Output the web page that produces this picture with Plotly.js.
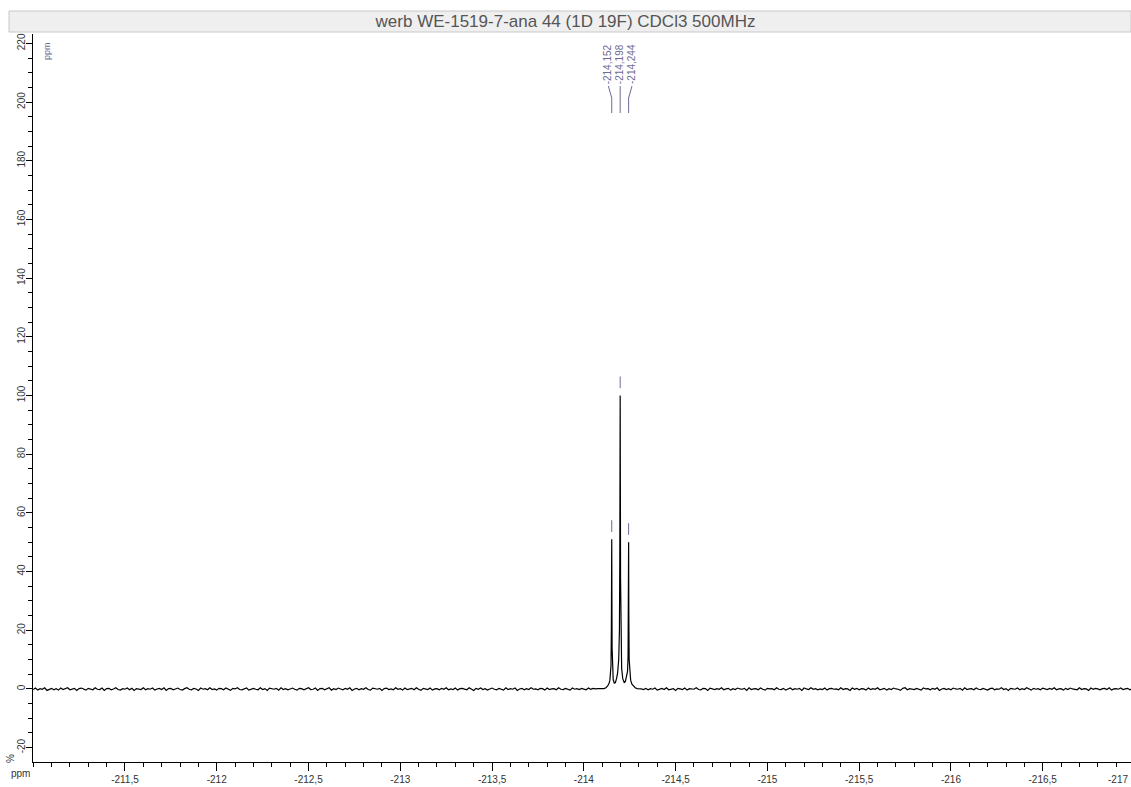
<!DOCTYPE html>
<html>
<head>
<meta charset="utf-8">
<script src="https://cdn.plot.ly/plotly-3.0.1.min.js"></script>
<style>html,body{margin:0;padding:0;background:#fff;overflow:hidden;}#chart{width:1131px;height:787px;}</style>
</head>
<body>
<div id="chart"></div>
<script>
// ---- data ----
const titleText = 'werb WE-1519-7-ana 44 (1D 19F) CDCl3 500MHz';

// baseline noise, left part: ppm -211.000 ... -214.100, sampled every 0.0125 ppm
const base1Start = -211.0;
const base1Step = 0.0125;
const base1Int = [
-0.2,0.3,-0.4,0.1,-0.1,0.4,-0.5,0.0,0.2,-0.3,0.1,-0.4,0.3,-0.2,0.0,0.4,-0.3,-0.1,0.2,-0.5,
0.1,0.3,-0.2,-0.4,0.2,0.0,-0.3,0.4,-0.1,-0.2,0.3,-0.5,0.1,0.2,-0.3,0.0,0.4,-0.2,-0.4,0.1,
-0.1,0.3,-0.3,0.2,-0.5,0.1,0.0,-0.2,0.4,-0.3,0.1,-0.1,0.3,-0.4,0.0,0.2,-0.2,0.4,-0.5,0.1,
0.2,-0.3,0.0,0.3,-0.2,-0.4,0.1,0.4,-0.1,-0.3,0.2,0.0,-0.5,0.3,-0.1,0.1,-0.3,0.4,-0.2,0.0,
-0.4,0.2,0.1,-0.3,0.3,-0.1,-0.5,0.2,0.0,0.4,-0.2,-0.3,0.1,0.3,-0.4,0.0,0.2,-0.1,-0.3,0.4,
-0.2,0.1,-0.5,0.3,0.0,-0.1,0.2,-0.4,0.4,-0.2,0.1,-0.3,0.0,0.3,-0.1,-0.4,0.2,0.1,-0.3,0.0,
0.4,-0.2,-0.1,0.3,-0.5,0.1,0.2,-0.3,0.0,0.4,-0.4,0.1,-0.2,0.3,0.0,-0.3,0.2,-0.1,0.4,-0.5,
0.0,0.2,-0.3,0.1,-0.1,0.4,-0.2,-0.4,0.3,0.0,-0.1,0.2,-0.5,0.1,0.3,-0.2,0.0,-0.3,0.4,-0.1,
0.1,-0.4,0.3,-0.2,0.0,0.2,-0.3,0.4,-0.1,-0.5,0.2,0.1,-0.2,0.3,-0.4,0.0,0.1,-0.3,0.2,-0.1,
0.4,-0.3,0.0,-0.2,0.3,-0.4,0.1,0.2,-0.1,-0.3,0.4,0.0,-0.5,0.2,-0.1,0.3,-0.2,0.1,-0.4,0.0,
0.3,-0.1,-0.3,0.2,0.0,-0.4,0.4,-0.2,0.1,-0.1,0.3,-0.5,0.0,0.2,-0.3,0.1,-0.2,0.4,-0.1,0.0,
-0.3,0.2,0.1,-0.4,0.3,-0.2,0.0,0.1,-0.3,0.4,-0.1,-0.2,0.2,0.0,-0.4,0.3,-0.1,0.1,-0.2,0.2,
0.0,-0.3,0.3,-0.1,0.2,0.0,0.1,0.2,0.1];

// triplet region
const peakPpm = [-214.110,-214.120,-214.130,-214.137,-214.142,-214.146,-214.148,-214.150,-214.151,-214.152,
-214.153,-214.154,-214.156,-214.160,-214.166,-214.172,-214.178,-214.184,-214.190,-214.194,
-214.196,-214.197,-214.198,-214.199,-214.200,-214.202,-214.206,-214.212,-214.220,-214.226,
-214.232,-214.238,-214.241,-214.243,-214.244,-214.245,-214.247,-214.250,-214.255,-214.262,
-214.270,-214.280,-214.290];
const peakInt = [0.1,0.4,1.0,1.8,3.0,5.0,8.0,20,35,51,
30,14,6.0,3.2,2.0,2.2,3.5,5.5,10,20,
45,80,100,70,38,16,7.0,3.5,2.2,2.5,
3.8,6.0,11,28,50,26,10,5.0,3.0,1.6,
0.9,0.4,0.1];

// baseline noise, right part: ppm -214.300 ... -217.000, every 0.0125 ppm
const base2Start = -214.3;
const base2Step = 0.0125;
const base2Int = [
0.1,0.0,-0.2,0.2,-0.3,0.1,-0.1,0.3,-0.4,0.0,0.2,-0.2,0.4,-0.3,-0.1,0.1,-0.5,0.2,0.0,-0.2,
0.3,-0.4,0.1,0.0,-0.1,0.4,-0.2,-0.3,0.2,0.1,-0.5,0.3,0.0,-0.2,0.1,-0.1,0.4,-0.3,0.0,0.2,
-0.4,0.1,-0.2,0.3,0.0,-0.1,0.2,-0.5,0.4,-0.2,0.0,0.1,-0.3,0.3,-0.1,-0.4,0.2,0.0,0.1,-0.3,
0.4,-0.1,-0.2,0.2,-0.4,0.0,0.3,-0.3,0.1,-0.1,0.2,-0.5,0.3,0.0,-0.2,0.4,-0.1,0.1,-0.3,0.0,
-0.2,0.3,-0.4,0.1,0.2,-0.1,0.0,-0.3,0.4,-0.2,0.1,0.0,-0.5,0.3,-0.1,0.2,-0.3,0.1,0.0,-0.4,
0.3,-0.2,0.1,-0.1,0.4,-0.3,0.0,0.2,-0.4,0.1,-0.2,0.3,0.0,-0.1,-0.5,0.2,0.4,-0.3,0.1,0.0,
-0.2,0.2,-0.1,-0.4,0.3,0.0,0.1,-0.3,0.2,-0.1,0.4,-0.5,0.0,0.2,-0.2,0.1,-0.3,0.3,0.0,-0.1,
0.2,-0.4,0.4,-0.2,0.0,0.1,-0.3,0.3,-0.1,-0.2,0.2,0.0,-0.4,0.1,0.3,-0.3,0.0,-0.1,0.4,-0.2,
0.1,-0.5,0.2,0.0,-0.1,0.3,-0.3,0.1,-0.2,0.4,0.0,-0.4,0.2,-0.1,0.1,-0.3,0.3,0.0,-0.2,0.2,
-0.1,0.4,-0.3,0.0,0.1,-0.4,0.2,-0.2,0.3,0.0,-0.1,-0.3,0.4,-0.2,0.1,0.0,-0.5,0.3,-0.1,0.2,
0.0,-0.3,0.1,0.2,-0.2,0.4,-0.4,0.0,0.1,-0.1,0.3,-0.2,0.0,0.2,-0.3,0.1,0.0];

// picked peaks
const pickPpm = [-214.152, -214.198, -214.244];
const pickLabels = ['-214,152', '-214,198', '-214,244'];
const pickHeights = [51, 100, 50];

// axis ticks
const xTickVals = [-211.5,-212,-212.5,-213,-213.5,-214,-214.5,-215,-215.5,-216,-216.5];
const xTickText = ['-211,5','-212','-212,5','-213','-213,5','-214','-214,5','-215','-215,5','-216','-216,5'];
const xEdgeLabel = '-217';
const yTickVals = [-20,0,20,40,60,80,100,120,140,160,180,200,220];
const yTickText = ['-20','0','20','40','60','80','100','120','140','160','180','200','220'];

// ---- build the trace ----
const xs = [], ys = [];
base1Int.forEach((v, i) => { xs.push(+(base1Start - i * base1Step).toFixed(4)); ys.push(v); });
peakPpm.forEach((p, i) => { xs.push(p); ys.push(peakInt[i]); });
base2Int.forEach((v, i) => { xs.push(+(base2Start - i * base2Step).toFixed(4)); ys.push(v); });

const FONT = 'Liberation Sans, Arial, sans-serif';
const LABEL_COLOR = '#6b6b96';

const W = 1131, H = 787;
const M = {l: 33, r: 0, t: 34, b: 25};
const PW = W - M.l - M.r, PH = H - M.t - M.b;
const px2paperX = px => (px - M.l) / PW;
const px2paperY = py => (H - M.b - py) / PH;

const shapes = [];
const annotations = [];

// title bar
shapes.push({type: 'rect', xref: 'paper', yref: 'paper',
  x0: px2paperX(9), x1: 1.0, y0: px2paperY(32), y1: px2paperY(11),
  fillcolor: '#efefef', line: {color: '#c8c8c8', width: 1}, layer: 'below'});

// peak labels and connectors
const center = pickPpm[1];
pickPpm.forEach((p, i) => {
  const lx = center + (p - center) * 1.4;
  annotations.push({xref: 'x', yref: 'paper', x: lx, y: px2paperY(86),
    text: pickLabels[i], textangle: -90, showarrow: false,
    xanchor: 'center', yanchor: 'bottom',
    font: {family: FONT, size: 10, color: LABEL_COLOR}});
  shapes.push({type: 'path', xref: 'x', yref: 'paper',
    path: `M ${lx} ${px2paperY(86)} L ${p} ${px2paperY(98)} L ${p} ${px2paperY(113)}`,
    line: {color: LABEL_COLOR, width: 1}});
  // small marker above the peak
  shapes.push({type: 'line', xref: 'x', yref: 'y',
    x0: p, x1: p, y0: pickHeights[i] + 2.5, y1: pickHeights[i] + 6.5,
    line: {color: LABEL_COLOR, width: 1}});
});

// "ppm" caption of the label ruler (top-left)
annotations.push({xref: 'paper', yref: 'paper', x: px2paperX(47), y: px2paperY(51),
  text: 'ppm', textangle: -90, showarrow: false, xanchor: 'center', yanchor: 'middle',
  font: {family: FONT, size: 9, color: LABEL_COLOR}});
// axis captions
annotations.push({xref: 'paper', yref: 'paper', x: px2paperX(20), y: px2paperY(773),
  text: 'ppm', showarrow: false, xanchor: 'center', yanchor: 'middle',
  font: {family: FONT, size: 10, color: '#333'}});
annotations.push({xref: 'paper', yref: 'paper', x: px2paperX(10), y: px2paperY(759),
  text: '%', textangle: -90, showarrow: false, xanchor: 'center', yanchor: 'middle',
  font: {family: FONT, size: 10, color: '#333'}});
// the last x label at the right edge
annotations.push({xref: 'paper', yref: 'paper', x: px2paperX(1130), y: px2paperY(780),
  text: xEdgeLabel, showarrow: false, xanchor: 'right', yanchor: 'middle',
  font: {family: FONT, size: 10, color: '#333'}});

const trace = {x: xs, y: ys, type: 'scatter', mode: 'lines',
  line: {color: '#000', width: 1.2}, hoverinfo: 'skip'};

const layout = {
  width: W, height: H,
  margin: M,
  paper_bgcolor: '#fff', plot_bgcolor: '#fff',
  showlegend: false,
  title: {text: titleText, x: 0.5, xref: 'container', xanchor: 'center',
    y: 1 - 21.5 / H, yref: 'container', yanchor: 'middle',
    font: {family: FONT, size: 17, color: '#555'}},
  xaxis: {range: [-210.999, -216.981], showgrid: false, zeroline: false,
    showline: true, linecolor: '#000', linewidth: 1,
    ticks: 'outside', ticklen: 8, tickcolor: '#000', tickwidth: 1,
    tickmode: 'array', tickvals: xTickVals, ticktext: xTickText,
    tickfont: {family: FONT, size: 10, color: '#333'},
    minor: {dtick: 0.1, tick0: 0, ticks: 'outside', ticklen: 4, tickcolor: '#000', showgrid: false}},
  yaxis: {range: [-24.9, 223.2], showgrid: false, zeroline: false,
    showline: true, linecolor: '#000', linewidth: 1,
    ticks: 'outside', ticklen: 6, tickcolor: '#000', tickwidth: 1,
    tickmode: 'array', tickvals: yTickVals, ticktext: yTickText, tickangle: -90,
    ticklabelstandoff: -3,
    tickfont: {family: FONT, size: 10, color: '#333'},
    minor: {dtick: 5, tick0: 0, ticks: 'outside', ticklen: 4, tickcolor: '#000', showgrid: false}},
  shapes: shapes,
  annotations: annotations
};

Plotly.newPlot('chart', [trace], layout, {displayModeBar: false, staticPlot: true});
</script>
</body>
</html>
